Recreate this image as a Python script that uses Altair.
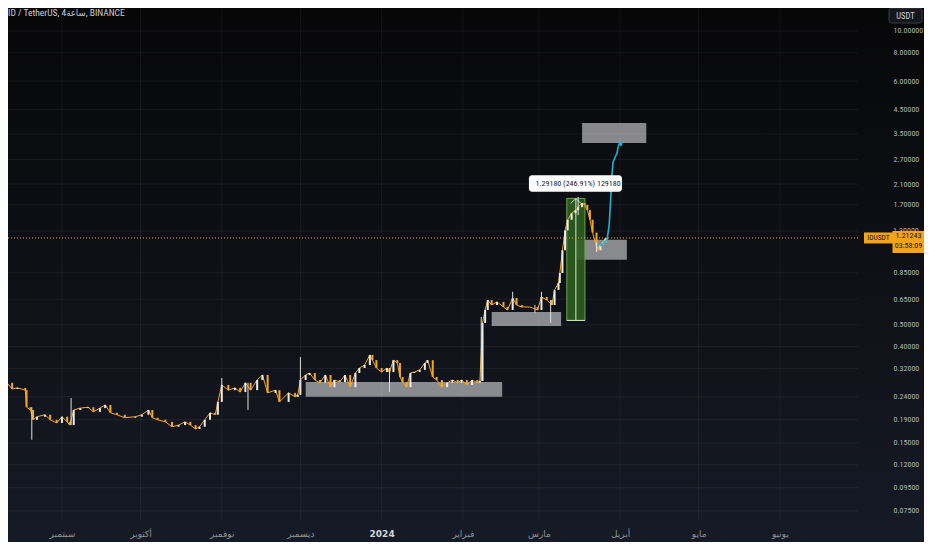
import altair as alt
import pandas as pd

# plot area size (px), right axis and bottom axis live in the padding
W, H = 850, 512
PAD_R, PAD_B = 66, 22
LBL_PAD = 35
NUM_FONT = "Liberation Sans Narrow, Roboto Condensed, DejaVu Sans Condensed, Liberation Sans, sans-serif"
AR_FONT = "DejaVu Sans, Noto Sans, sans-serif"

# 4h closes (IDUSDT, log scale)
close_dates = [
    "2023-08-10T00:00", "2023-08-11T00:00", "2023-08-13T00:00", "2023-08-15T00:00",
    "2023-08-18T00:00", "2023-08-18T12:00", "2023-08-20T00:00", "2023-08-21T00:00",
    "2023-08-22T12:00", "2023-08-25T12:00", "2023-08-27T12:00", "2023-08-30T00:00",
    "2023-09-01T00:00", "2023-09-03T00:00", "2023-09-04T00:00", "2023-09-05T12:00",
    "2023-09-08T00:00", "2023-09-11T00:00", "2023-09-13T00:00", "2023-09-15T12:00",
    "2023-09-17T12:00", "2023-09-19T12:00", "2023-09-22T00:00", "2023-09-25T00:00",
    "2023-09-29T00:00", "2023-10-01T12:00", "2023-10-04T00:00", "2023-10-05T12:00",
    "2023-10-07T12:00", "2023-10-10T12:00", "2023-10-13T00:00", "2023-10-15T12:00",
    "2023-10-18T00:00", "2023-10-20T00:00", "2023-10-22T00:00", "2023-10-23T12:00",
    "2023-10-25T12:00", "2023-10-27T12:00", "2023-10-29T12:00", "2023-10-30T12:00",
    "2023-11-01T00:00", "2023-11-03T12:00", "2023-11-06T00:00", "2023-11-08T00:00",
    "2023-11-10T00:00", "2023-11-12T00:00", "2023-11-14T12:00", "2023-11-16T12:00",
    "2023-11-18T12:00", "2023-11-21T12:00", "2023-11-23T00:00", "2023-11-26T12:00",
    "2023-11-29T00:00", "2023-11-30T00:00", "2023-12-01T00:00", "2023-12-03T00:00",
    "2023-12-04T12:00", "2023-12-06T12:00", "2023-12-08T12:00", "2023-12-10T12:00",
    "2023-12-12T12:00", "2023-12-14T00:00", "2023-12-16T00:00", "2023-12-18T00:00",
    "2023-12-20T00:00", "2023-12-22T00:00", "2023-12-23T12:00", "2023-12-25T12:00",
    "2023-12-27T12:00", "2023-12-28T12:00", "2023-12-30T00:00", "2024-01-01T00:00",
    "2024-01-03T00:00", "2024-01-04T00:00", "2024-01-05T12:00", "2024-01-07T00:00",
    "2024-01-08T00:00", "2024-01-09T00:00", "2024-01-10T12:00", "2024-01-12T00:00",
    "2024-01-13T12:00", "2024-01-15T12:00", "2024-01-17T12:00", "2024-01-18T12:00",
    "2024-01-20T12:00", "2024-01-22T00:00", "2024-01-24T00:00", "2024-01-26T00:00",
    "2024-01-28T00:00", "2024-01-30T00:00", "2024-01-31T12:00", "2024-02-02T12:00",
    "2024-02-04T12:00", "2024-02-06T12:00", "2024-02-07T12:00", "2024-02-08T12:00",
    "2024-02-09T12:00", "2024-02-10T12:00", "2024-02-12T00:00", "2024-02-14T00:00",
    "2024-02-16T12:00", "2024-02-18T00:00", "2024-02-20T00:00", "2024-02-21T12:00",
    "2024-02-23T12:00", "2024-02-26T12:00", "2024-02-29T12:00", "2024-03-02T00:00",
    "2024-03-04T00:00", "2024-03-06T00:00", "2024-03-07T00:00", "2024-03-08T12:00",
    "2024-03-09T00:00", "2024-03-10T00:00", "2024-03-11T00:00", "2024-03-12T00:00",
    "2024-03-13T12:00", "2024-03-15T00:00", "2024-03-16T00:00", "2024-03-17T12:00",
    "2024-03-18T12:00", "2024-03-19T12:00", "2024-03-20T12:00", "2024-03-21T12:00",
    "2024-03-23T00:00", "2024-03-23T12:00", "2024-03-24T12:00", "2024-03-25T12:00",
    "2024-03-26T12:00",
]
close_prices = [
    0.265, 0.277, 0.260, 0.263, 0.257, 0.216, 0.210, 0.190, 0.196, 0.200, 0.190, 0.184,
    0.196, 0.186, 0.180, 0.210, 0.214, 0.216, 0.206, 0.214, 0.221, 0.204, 0.200, 0.194,
    0.196, 0.200, 0.210, 0.194, 0.190, 0.186, 0.177, 0.180, 0.186, 0.180, 0.173, 0.177,
    0.190, 0.204, 0.200, 0.228, 0.271, 0.257, 0.263, 0.252, 0.277, 0.257, 0.285, 0.300,
    0.250, 0.257, 0.228, 0.250, 0.240, 0.245, 0.285, 0.300, 0.306, 0.285, 0.277, 0.300,
    0.265, 0.285, 0.279, 0.300, 0.265, 0.306, 0.322, 0.332, 0.368, 0.349, 0.322, 0.309,
    0.322, 0.309, 0.349, 0.339, 0.294, 0.279, 0.265, 0.306, 0.309, 0.316, 0.339, 0.349,
    0.294, 0.285, 0.265, 0.277, 0.285, 0.277, 0.285, 0.271, 0.285, 0.277, 0.282, 0.510,
    0.582, 0.644, 0.612, 0.632, 0.600, 0.582, 0.657, 0.612, 0.600, 0.600, 0.582, 0.664,
    0.644, 0.612, 0.714, 0.766, 0.848, 1.07, 1.31, 1.46, 1.56, 1.61, 1.66, 1.73,
    1.70, 1.61, 1.46, 1.28, 1.11, 1.07, 1.13, 1.16, 1.212,
]

# long wicks that stick out of the close line
wick_dates = ["2023-08-20T12:00", "2023-09-04T12:00", "2023-11-01T00:00", "2023-11-11T00:00",
              "2023-12-01T00:00", "2024-01-04T00:00", "2024-02-08T00:00", "2024-02-20T00:00",
              "2024-02-28T12:00", "2024-03-02T00:00", "2024-03-05T12:00", "2024-03-16T00:00",
              "2024-03-23T00:00"]
wick_low = [0.155, 0.180, 0.252, 0.210, 0.245, 0.252, 0.282, 0.620, 0.563, 0.612, 0.510, 1.53, 1.05]
wick_high = [0.216, 0.237, 0.291, 0.277, 0.360, 0.322, 0.542, 0.700, 0.612, 0.700, 0.644, 1.84, 1.16]

# cyan projected path
proj_dates = ["2024-03-24T08:00", "2024-03-25T20:00", "2024-03-27T00:00", "2024-03-27T20:00",
              "2024-03-28T04:00", "2024-03-28T12:00", "2024-03-28T20:00", "2024-03-29T08:00",
              "2024-03-30T00:00", "2024-03-30T20:00", "2024-03-31T04:00", "2024-04-01T00:00",
              "2024-04-01T08:00", "2024-04-01T16:00"]
proj_prices = [1.12, 1.15, 1.19, 1.38, 1.61, 1.88, 2.26, 2.63, 2.74, 2.88, 3.03, 3.26, 3.10, 3.19]

# grey zones
zone_start = ["2023-12-03T00:00", "2024-02-12T00:00", "2024-03-15T14:00", "2024-03-17T12:00"]
zone_end = ["2024-02-16T00:00", "2024-03-09T12:00", "2024-04-03T14:00", "2024-04-11T00:00"]
zone_low = [0.240, 0.494, 0.97, 3.19]
zone_high = [0.279, 0.570, 1.19, 3.91]

# price range measurement
meas_start, meas_end, meas_mid = "2024-03-11T16:00", "2024-03-18T14:00", "2024-03-15T03:00"
meas_low, meas_high = 0.5232, 1.8150
meas_text = "1.29180 (246.91%) 129180"
lbl_start, lbl_end, lbl_mid = "2024-02-26T05:00", "2024-04-01T17:00", "2024-03-15T23:00"
lbl_low, lbl_high, lbl_y = 1.94, 2.30, 2.11

last_price = 1.21243
last_text = "1.21243"
countdown = "03:58:09"
symbol = "IDUSDT"
title_text = "ID / TetherUS, 4ساعة, BINANCE"

y_ticks = [0.075, 0.095, 0.12, 0.15, 0.19, 0.24, 0.32, 0.40, 0.50, 0.65, 0.85,
           1.30, 1.70, 2.10, 2.70, 3.50, 4.50, 6.00, 8.00, 10.00]
hidden_tick = 1.30
tick_months = [(2023, 9), (2023, 10), (2023, 11), (2023, 12), (2024, 1),
               (2024, 2), (2024, 3), (2024, 4), (2024, 5), (2024, 6)]
month_names = ["يناير", "فبراير", "مارس", "أبريل", "مايو", "يونيو",
               "يوليو", "أغسطس", "سبتمبر", "أكتوبر", "نوفمبر", "ديسمبر"]

# ---- tables
prices = pd.DataFrame({"date": close_dates, "close": close_prices})
prices["open"] = prices["close"].shift(1).fillna(prices["close"])
wicks = pd.DataFrame({"date": wick_dates, "low": wick_low, "high": wick_high})
proj = pd.DataFrame({"date": proj_dates, "price": proj_prices})
zones = pd.DataFrame({"start": zone_start, "end": zone_end, "low": zone_low, "high": zone_high})
meas = pd.DataFrame({"start": [meas_start], "end": [meas_end], "mid": [meas_mid],
                     "low": [meas_low], "high": [meas_high]})
lbl = pd.DataFrame({"start": [lbl_start], "end": [lbl_end], "mid": [lbl_mid],
                    "low": [lbl_low], "high": [lbl_high], "y": [lbl_y], "text": [meas_text]})
last = pd.DataFrame({"price": [last_price]})
hgrid = pd.DataFrame({"tick": y_ticks})
vgrid = pd.DataFrame({"date": [f"{y}-{m:02d}-01T00:00" for y, m in tick_months]})
one = pd.DataFrame({"a": [0]})

x_scale = alt.Scale(domain=[alt.DateTime(year=2023, month=8, date=11, hours=10),
                            alt.DateTime(year=2024, month=6, date=30, hours=19)], nice=False)
y_scale = alt.Scale(type="log", domain=[0.0684, 12.64], nice=False)

names_js = "[" + ",".join(f"'{n}'" for n in month_names) + "]"
x_axis = alt.Axis(
    orient="bottom", values=[alt.DateTime(year=y, month=m, date=1) for y, m in tick_months],
    labelExpr=f"month(datum.value) == 0 ? timeFormat(datum.value, '%Y') : {names_js}[month(datum.value)]",
    title=None, domain=False, ticks=False, grid=False, labelPadding=13, labelBaseline="middle",
    labelFont=AR_FONT, labelFontSize=9, labelFlush=False, labelOverlap=False, zindex=1,
    labelColor=alt.condition("month(datum.value) == 0", alt.value("#d1d4dc"), alt.value("#8f939e")),
    labelFontWeight=alt.condition("month(datum.value) == 0", alt.value("bold"), alt.value("normal")),
)
y_axis = alt.Axis(
    orient="right", values=[t for t in y_ticks if t != hidden_tick], format=".5f", title=None,
    domain=False, ticks=False, grid=False, labelAlign="left", labelBaseline="middle",
    labelPadding=LBL_PAD, labelFont=NUM_FONT, labelFontSize=8, labelColor="#b2b5be",
    labelFlush=False, labelOverlap=False, zindex=1,
)


def X(field):
    return alt.X(field, scale=x_scale, axis=x_axis)


def Y(field):
    return alt.Y(field, scale=y_scale, axis=y_axis)


bg_fill = alt.LinearGradient(
    gradient="linear", x1=0, x2=0, y1=0, y2=1,
    stops=[alt.GradientStop(color="#070708", offset=0), alt.GradientStop(color="#161a25", offset=1)],
)
bg = alt.Chart(one).mark_rect(fill=bg_fill).encode(
    x=alt.value(0), x2=alt.value(W + PAD_R), y=alt.value(0), y2=alt.value(H + PAD_B)
)

grid_h = alt.Chart(hgrid).mark_rule(color="#ffffff", opacity=0.06, strokeWidth=1).encode(y=Y("tick:Q"))
grid_v = alt.Chart(vgrid).mark_rule(color="#ffffff", opacity=0.05, strokeWidth=1).encode(x=X("date:T"))

zone_layer = alt.Chart(zones).mark_rect(color="#c4c4c8", opacity=0.68).encode(
    x=X("start:T"), x2="end:T", y=Y("low:Q"), y2="high:Q",
)

meas_box = alt.Chart(meas).mark_rect(fill="#2c5e1d", fillOpacity=0.9, stroke="#6f9e55", strokeWidth=1).encode(
    x=X("start:T"), x2="end:T", y=Y("low:Q"), y2="high:Q",
)
meas_line = alt.Chart(meas).mark_rule(color="#d6e4cf", strokeWidth=1).encode(
    x=X("mid:T"), y=Y("low:Q"), y2="high:Q",
)
meas_base = alt.Chart(meas).mark_rule(color="#d6e4cf", strokeWidth=1).encode(
    x=X("start:T"), x2="end:T", y=Y("low:Q"),
)
meas_arrow = alt.Chart(meas).mark_point(
    shape="M-1,0L0,-1L1,0", size=100, filled=False, stroke="#d6e4cf", strokeWidth=1, opacity=1, yOffset=5
).encode(x=X("mid:T"), y=Y("high:Q"))

close_line = alt.Chart(prices).mark_line(color="#f5a623", strokeWidth=1).encode(
    x=X("date:T"), y=Y("close:Q"),
)
candles = alt.Chart(prices).mark_rule(strokeWidth=2).encode(
    x=X("date:T"), y=Y("open:Q"), y2="close:Q",
    color=alt.condition("datum.close >= datum.open", alt.value("#ececec"), alt.value("#f5a623")),
)
wick_layer = alt.Chart(wicks).mark_rule(color="#dedede", strokeWidth=1).encode(
    x=X("date:T"), y=Y("low:Q"), y2="high:Q",
)
proj_line = alt.Chart(proj).mark_line(color="#1fb5cc", strokeWidth=1.6).encode(
    x=X("date:T"), y=Y("price:Q"),
)

lbl_box = alt.Chart(lbl).mark_rect(fill="#ffffff", cornerRadius=3).encode(
    x=X("start:T"), x2="end:T", y=Y("low:Q"), y2="high:Q",
)
lbl_txt = alt.Chart(lbl).mark_text(font=NUM_FONT, fontSize=8, color="#131722", baseline="middle").encode(
    x=X("mid:T"), y=Y("y:Q"), text="text:N",
)

price_line = alt.Chart(last).mark_rule(color="#f7a21b", strokeDash=[1, 2], strokeWidth=1).encode(
    y=Y("price:Q")
)
hidden_lbl = alt.Chart(pd.DataFrame({"tick": [hidden_tick]})).mark_text(
    font=NUM_FONT, fontSize=8, color="#b2b5be", align="left", baseline="middle"
).encode(x=alt.value(W + LBL_PAD), y=Y("tick:Q"), text=alt.Text("tick:Q", format=".5f"))
tag_sym = alt.Chart(last).mark_point(
    shape="M-1,-0.38H1V0.38H-1Z", size=841, filled=True, color="#f7a21b", opacity=1
).encode(x=alt.value(W + 20.5), y=Y("price:Q"))
tag_sym_txt = alt.Chart(last).mark_text(
    text=symbol, font=NUM_FONT, fontSize=7.5, color="#131722", baseline="middle"
).encode(x=alt.value(W + 20.5), y=Y("price:Q"))
tag_val = alt.Chart(last).mark_point(
    shape="M-1,-0.69H1V0.69H-1Z", size=1024, filled=True, color="#f7a21b", opacity=1, yOffset=4
).encode(x=alt.value(W + 50.5), y=Y("price:Q"))
tag_val_txt = alt.Chart(last).mark_text(
    text=last_text, font=NUM_FONT, fontSize=8, color="#131722", baseline="middle", dy=-1.5
).encode(x=alt.value(W + 50.5), y=Y("price:Q"))
tag_time_txt = alt.Chart(last).mark_text(
    text=countdown, font=NUM_FONT, fontSize=8, color="#131722", baseline="middle", dy=8
).encode(x=alt.value(W + 50.5), y=Y("price:Q"))

title = alt.Chart(one).mark_text(
    text=title_text, font=NUM_FONT, fontSize=9.5, color="#c9ccd4", align="left", baseline="middle"
).encode(x=alt.value(0), y=alt.value(5))
usdt_box = alt.Chart(one).mark_rect(fill="#15171d", stroke="#3a3e48", strokeWidth=1, cornerRadius=3).encode(
    x=alt.value(W + 31), x2=alt.value(W + 64), y=alt.value(0), y2=alt.value(15)
)
usdt_txt = alt.Chart(one).mark_text(
    text="USDT", font=NUM_FONT, fontSize=8.5, color="#d1d4dc", baseline="middle"
).encode(x=alt.value(W + 47.5), y=alt.value(7.5))

chart = alt.layer(
    bg, grid_h, grid_v, zone_layer, meas_box, meas_line, meas_base, meas_arrow,
    close_line, candles, wick_layer, proj_line, lbl_box, lbl_txt, price_line,
    hidden_lbl, tag_sym, tag_sym_txt, tag_val, tag_val_txt, tag_time_txt,
    title, usdt_box, usdt_txt,
).properties(
    width=W, height=H,
    padding={"left": 0, "top": 0, "right": PAD_R, "bottom": PAD_B},
    autosize=alt.AutoSizeParams(type="none"),
    background="#0e1016",
).configure_view(stroke=None)

chart.save("out.html", embed_options={"renderer": "svg", "actions": False})
